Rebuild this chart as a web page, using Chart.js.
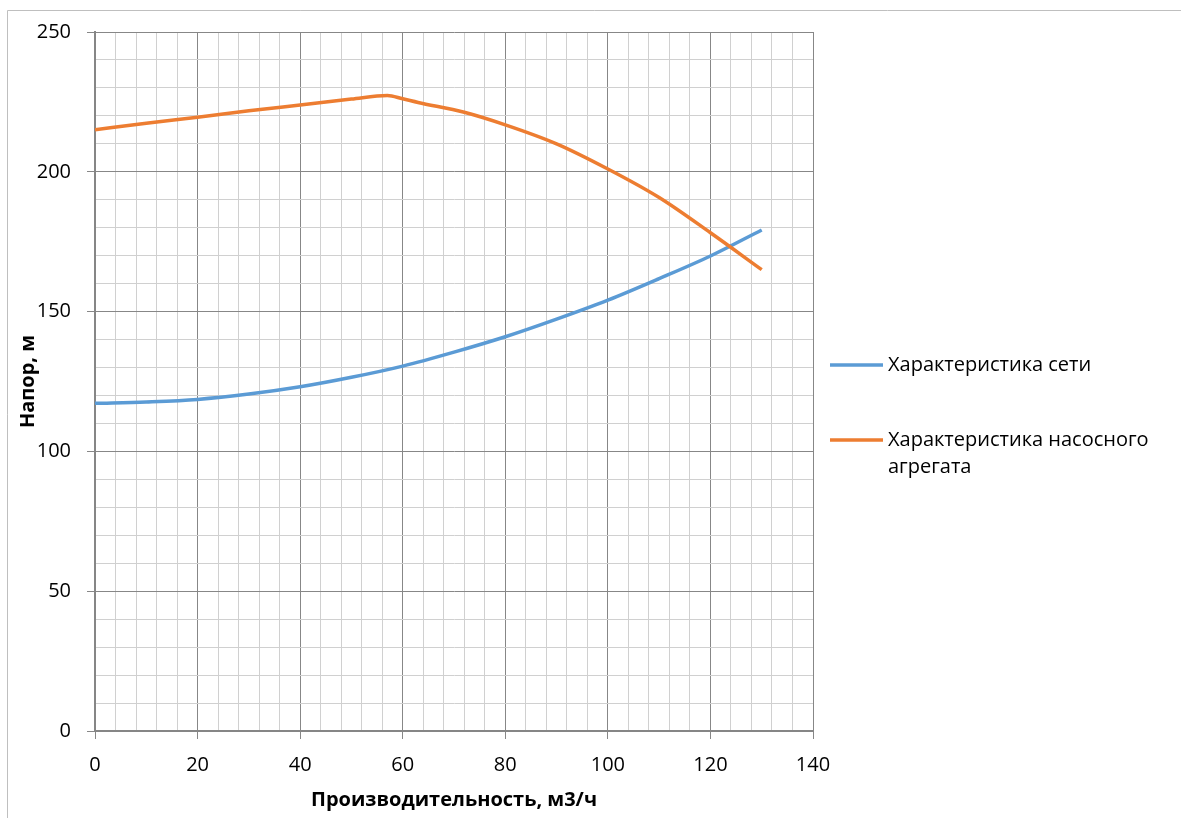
<!DOCTYPE html>
<html>
<head>
<meta charset="utf-8">
<script src="https://cdn.jsdelivr.net/npm/chart.js@4.4.0/dist/chart.umd.min.js"></script>
<style>
  html, body { margin: 0; padding: 0; background: #fff; }
  #wrap { width: 1181px; height: 818px; position: relative; }
</style>
</head>
<body>
<div id="wrap"><canvas id="chart" width="1181" height="818"></canvas></div>
<script>
// network curve (Характеристика сети)
const netX = [0, 10, 20, 30, 40, 50, 60, 70, 80, 90, 100, 110, 120, 130];
const netY = [117.2, 117.7, 118.6, 120.5, 123.1, 126.5, 130.5, 135.5, 141.0, 147.3, 154.1, 161.8, 169.9, 179.2];

// pump curve (Характеристика насосного агрегата)
const pumpX = [0, 10, 20, 30, 40, 50, 57, 60, 63, 72, 80, 90, 100, 110, 120, 130];
const pumpY = [215.0, 217.4, 219.5, 221.8, 223.9, 226.0, 227.3, 226.1, 224.8, 221.3, 216.8, 210.0, 201.0, 190.8, 178.2, 165.0];

const seriesNames = ["Характеристика сети", "Характеристика насосного агрегата"];
const seriesColors = ["#5B9BD5", "#ED7D31"];

const xTitle = "Производительность, м3/ч";
const yTitle = "Напор, м";

const toPoints = (xs, ys) => xs.map((x, i) => ({ x: x, y: ys[i] }));

const FONT = "'Open Sans', 'Noto Sans', sans-serif";

// outer frame like the Excel chart area
const framePlugin = {
  id: "frame",
  beforeDraw(chart) {
    const ctx = chart.ctx;
    ctx.save();
    ctx.strokeStyle = "#bfbfbf";
    ctx.lineWidth = 1;
    ctx.beginPath();
    ctx.moveTo(7.5, chart.height);
    ctx.lineTo(7.5, 10.5);
    ctx.lineTo(chart.width, 10.5);
    ctx.stroke();
    ctx.restore();
  }
};

// legend on the right, with word wrap
const sideLegend = {
  id: "sideLegend",
  afterDraw(chart) {
    const ctx = chart.ctx;
    const x0 = chart.chartArea.right + 17;
    const rows = [365, 440];
    ctx.save();
    ctx.font = "20px " + FONT;
    ctx.textBaseline = "middle";
    ctx.fillStyle = "#000";
    chart.data.datasets.forEach((ds, i) => {
      const y = rows[i];
      ctx.strokeStyle = ds.borderColor;
      ctx.lineWidth = 3.5;
      ctx.beginPath();
      ctx.moveTo(x0, y);
      ctx.lineTo(x0 + 53, y);
      ctx.stroke();
      // wrap words
      const words = ds.label.split(" ");
      const lines = [];
      let cur = "";
      words.forEach(w => {
        const t = cur ? cur + " " + w : w;
        if (ctx.measureText(t).width > 285 && cur) { lines.push(cur); cur = w; }
        else cur = t;
      });
      lines.push(cur);
      lines.forEach((ln, k) => ctx.fillText(ln, x0 + 58, y + k * 27));
    });
    ctx.restore();
  }
};

new Chart(document.getElementById("chart"), {
  type: "line",
  data: {
    datasets: [
      {
        label: seriesNames[0],
        data: toPoints(netX, netY),
        borderColor: seriesColors[0],
        backgroundColor: seriesColors[0],
        borderWidth: 3.5,
        pointRadius: 0,
        cubicInterpolationMode: "monotone",
        order: 1
      },
      {
        label: seriesNames[1],
        data: toPoints(pumpX, pumpY),
        borderColor: seriesColors[1],
        backgroundColor: seriesColors[1],
        borderWidth: 3.5,
        pointRadius: 0,
        cubicInterpolationMode: "monotone",
        order: 0
      }
    ]
  },
  options: {
    responsive: false,
    animation: false,
    layout: { padding: { left: 10, top: 32, right: 368, bottom: 0 } },
    plugins: {
      legend: { display: false },
      tooltip: { enabled: false }
    },
    scales: {
      x: {
        type: "linear",
        min: 0,
        max: 140,
        afterFit: s => { s.height = 87; },
        ticks: {
          stepSize: 4,
          autoSkip: false,
          maxRotation: 0,
          padding: 14,
          color: "#000",
          font: { family: FONT, size: 20 },
          callback: v => (v % 20 === 0 ? v : "")
        },
        grid: {
          color: c => (c.tick && c.tick.value % 20 === 0 ? "#878787" : "#d0d0d0"),
          tickColor: c => (c.tick && c.tick.value % 20 === 0 ? "#878787" : "rgba(0,0,0,0)"),
          tickLength: 8
        },
        border: { color: "#868686", width: 2 },
        title: {
          display: true,
          text: xTitle,
          color: "#000",
          font: { family: FONT, size: 20, weight: "bold" },
          padding: { top: 0, bottom: 6 }
        }
      },
      y: {
        min: 0,
        max: 250,
        afterFit: s => { s.width = 85; },
        ticks: {
          stepSize: 10,
          autoSkip: false,
          padding: 16,
          color: "#000",
          font: { family: FONT, size: 20 },
          callback: v => (v % 50 === 0 ? v : "")
        },
        grid: {
          color: c => (c.tick && c.tick.value % 50 === 0 ? "#878787" : "#d0d0d0"),
          tickColor: c => (c.tick && c.tick.value % 50 === 0 ? "#878787" : "rgba(0,0,0,0)"),
          tickLength: 8
        },
        border: { color: "#868686", width: 2 },
        title: {
          display: true,
          text: yTitle,
          color: "#000",
          font: { family: FONT, size: 20, weight: "bold" },
          padding: { top: 6, bottom: 0 }
        }
      }
    }
  },
  plugins: [framePlugin, sideLegend]
});
</script>
</body>
</html>
